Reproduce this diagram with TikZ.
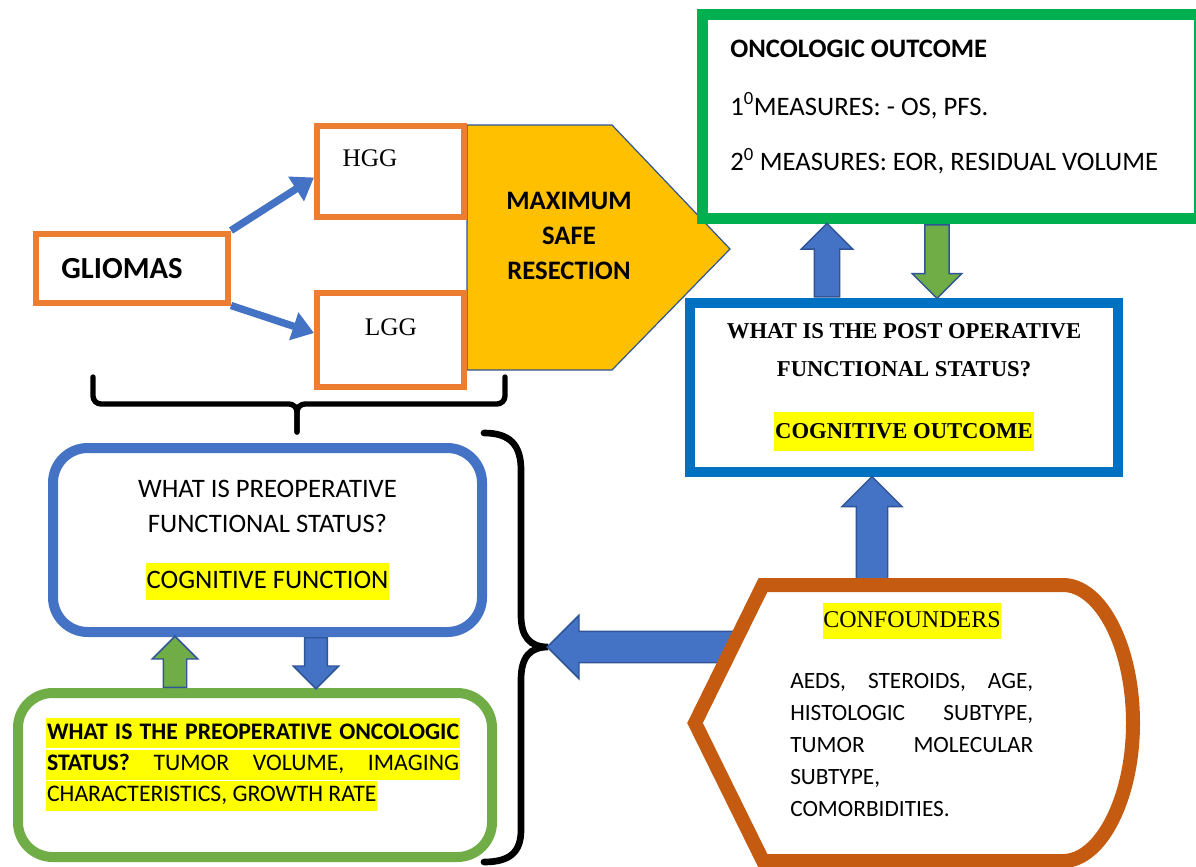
\documentclass[tikz,border=0pt]{standalone}
\usepackage{fontspec}
\setmainfont{Carlito}
\newfontfamily\serifrm{Liberation Serif}
\usetikzlibrary{arrows.meta,shapes.arrows,calc}

\definecolor{boxorange}{HTML}{ED7D31}
\definecolor{arrblue}{HTML}{4472C4}
\definecolor{arrline}{HTML}{2F5597}
\definecolor{resectgold}{HTML}{FFC000}
\definecolor{oncgreen}{HTML}{00B050}
\definecolor{postblue}{HTML}{0070C0}
\definecolor{pregreen}{HTML}{70AD47}
\definecolor{confbrown}{HTML}{C55A11}
\definecolor{hlyellow}{HTML}{FFFF00}

\newcommand\hilite[1]{{\setlength\fboxsep{0.6pt}\colorbox{hlyellow}{\strut#1}}}
\newcommand\fsz[2]{\fontsize{#1}{#2}\selectfont}

\tikzset{
  smallbox/.style={draw=boxorange, line width=4.5pt, fill=white, inner sep=0pt},
  roundbox/.style={line width=7.5pt, rounded corners=26pt, fill=white, inner sep=0pt},
  squarebox/.style={line width=8pt, fill=white, inner sep=0pt},
  thinarr/.style={draw=arrblue, line width=5.5pt, -{Triangle[length=16pt,width=21pt]}},
  brace/.style={draw=black, line width=4pt, line cap=round},
  blockarr/.style={single arrow, draw=arrline, line width=1.1pt, single arrow tip angle=90,
    single arrow head indent=0pt, inner xsep=0pt},
}

% block arrow from #2 to #3, named #4
\newcommand\blockarrow[4][]{%
  \path let \p1=(#2), \p2=(#3), \n1={atan2(\y2-\y1,\x2-\x1)}, \n2={veclen(\x2-\x1,\y2-\y1)} in
    node[blockarr, #1, minimum height=\n2, rotate={-\n1}, anchor=tail] (#4) at (\p1) {};%
}

\begin{document}
\begin{tikzpicture}[x=0.75pt,y=0.75pt,yscale=-1,xscale=1]
\useasboundingbox (0,0) rectangle (1196,867);

%Shape: Pentagon
\draw[draw=arrline, line width=0.9pt, fill=resectgold] (467,125) -- (612,125) -- (730,249) -- (612,370) -- (467,370) -- cycle;
% Text Node
\node[font=\bfseries\fsz{20}{26}, align=center] (resect) at (569,236) {MAXIMUM\\SAFE\\RESECTION};

%Shape: Rectangles
\node[smallbox, minimum width=144pt, minimum height=51.75pt] (gliomas) at (132,268) {};
\node[smallbox, minimum width=110.25pt, minimum height=68.25pt] (hgg) at (390.5,171.5) {};
\node[smallbox, minimum width=110.25pt, minimum height=70.5pt] (lgg) at (390.5,340) {};
% Text Node
\node[font=\bfseries\fsz{23}{28}] (gliomastext) at (122,269) {GLIOMAS};
% Text Node
\node[font=\serifrm\fsz{19}{23}] (hggtext) at (370,158) {HGG};
% Text Node
\node[font=\serifrm\fsz{19}{23}] (lggtext) at (391,327) {LGG};

%Straight Lines
\draw[thinarr] (gliomas.north east) -- ($(hgg.west)+(0,6)$);
\draw[thinarr] (gliomas.south east) -- ($(lgg.west)+(0,-7)$);

%Shape: Braces
\draw[brace, rounded corners=6pt] (297,432) |- (93,404) -- (93,377);
\draw[brace, rounded corners=6pt] (297,432) |- (505,404) -- (505,377);
\draw[brace, line width=5pt] (484,433) .. controls (510,433) and (521,445) .. (521,470) -- (521,615)
  .. controls (521,637) and (530,647) .. (548,647) .. controls (530,647) and (521,657) .. (521,680)
  -- (521,830) .. controls (521,852) and (510,862) .. (484,862);

%Shape: Rounded Rectangles
\node[roundbox, draw=arrblue, minimum width=321.75pt, minimum height=138pt, align=center,
  font=\fsz{20}{26.25}] (preop) at (267.5,540)
  {WHAT IS PREOPERATIVE\\FUNCTIONAL STATUS?\\[15.75pt]\hilite{COGNITIVE FUNCTION}};
\node[roundbox, draw=pregreen, minimum width=355.5pt, minimum height=123pt] (preonc) at (255,775) {};
% Text Node
\node[anchor=north west, align=left, inner sep=0pt, font=\fsz{17.8}{21.4}] (preonctext) at (46,718)
  {\hilite{\makebox[309pt][s]{\bfseries WHAT IS THE PREOPERATIVE ONCOLOGIC}}\\\hilite{\makebox[309pt][s]{\textbf{STATUS?} TUMOR VOLUME, IMAGING}}\\\hilite{CHARACTERISTICS, GROWTH RATE}};

%Shape: Outcome boxes
\node[squarebox, draw=postblue, minimum width=321pt, minimum height=126.75pt, align=center,
  font=\serifrm\bfseries\fsz{17}{28.5}] (postop) at (904,387.5)
  {WHAT IS THE POST OPERATIVE\\FUNCTIONAL STATUS?\\[18pt]\hilite{COGNITIVE OUTCOME}};
\node[squarebox, draw=oncgreen, line width=8.5pt, minimum width=373pt, minimum height=153pt] (onc) at (951,116.5) {};
% Text Node
\node[anchor=base west, inner sep=0pt, font=\bfseries\fsz{20}{24}] (onc1) at (730,58) {ONCOLOGIC OUTCOME};
% Text Node
\node[anchor=base west, inner sep=0pt, font=\fsz{20}{24}] (onc2) at (730,115) {1\textsuperscript{0}MEASURES: - OS, PFS.};
% Text Node
\node[anchor=base west, inner sep=0pt, font=\fsz{20}{24}] (onc3) at (730,171) {2\textsuperscript{0} MEASURES: EOR, RESIDUAL VOLUME};

%Block arrows
\coordinate (a3) at ($(postop.north)+(-77,0)$);
\blockarrow[fill=arrblue, inner ysep=9pt, single arrow head extend=9.75pt]{a3}{onc.south -| a3}{upone}
\coordinate (a4) at ($(onc.south)+(-14,0)$);
\blockarrow[fill=pregreen, inner ysep=8.6pt, single arrow head extend=9.4pt]{a4}{postop.north -| a4}{downone}
\coordinate (a5) at ($(preonc.north)+(-80,0)$);
\blockarrow[fill=pregreen, inner ysep=8.25pt, single arrow head extend=8.25pt]{a5}{preop.south -| a5}{uptwo}
\coordinate (a6) at ($(preop.south)+(48.5,0)$);
\blockarrow[fill=arrblue, inner ysep=8pt, single arrow head extend=8.5pt]{a6}{preonc.north -| a6}{downtwo}
\coordinate (bracetip) at (548,647);
\coordinate (confin) at (740,647);
\coordinate (conftop) at (872,595);
\blockarrow[fill=arrblue, inner ysep=11.25pt, single arrow head extend=12pt]{confin}{bracetip}{leftarr}
\blockarrow[fill=arrblue, inner ysep=11.25pt, single arrow head extend=10.75pt]{conftop}{postop.south -| conftop}{upthree}

%Shape: Confounders
\draw[draw=confbrown, line width=10.5pt, fill=white] (695,723) -- (763,585) -- (1063,585)
  .. controls (1101,585) and (1133,647) .. (1133,723) .. controls (1133,798) and (1101,861) .. (1063,861)
  -- (763,861) -- cycle;
% Text Node
\node[font=\serifrm\fsz{18}{26}] (conftitle) at (912,621) {\hilite{CONFOUNDERS}};
% Text Node
\node[anchor=north west, align=left, inner sep=0pt, font=\fsz{17.5}{24}] (confbody) at (790,673)
  {\makebox[182.25pt][s]{AEDS, STEROIDS, AGE,}\\\makebox[182.25pt][s]{HISTOLOGIC SUBTYPE,}\\\makebox[182.25pt][s]{TUMOR MOLECULAR}\\SUBTYPE,\\COMORBIDITIES.};

\end{tikzpicture}
\end{document}
